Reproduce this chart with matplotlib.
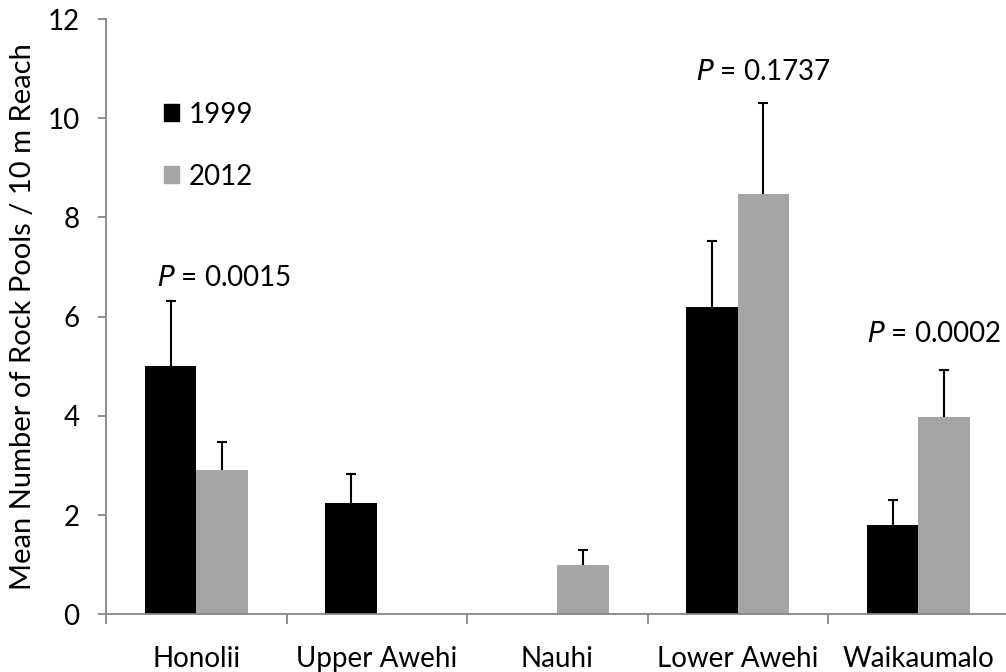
import matplotlib
matplotlib.use("Agg")
import matplotlib.pyplot as plt
import numpy as np

sites = ["Honolii", "Upper Awehi", "Nauhi", "Lower Awehi", "Waikaumalo"]
mean_1999 = [5.01, 2.24, 0.0, 6.19, 1.80]
err_1999 = [1.30, 0.58, 0.0, 1.33, 0.50]
mean_2012 = [2.90, 0.0, 1.00, 8.47, 3.98]
err_2012 = [0.58, 0.0, 0.30, 1.83, 0.95]
has_1999 = [True, True, False, True, True]
has_2012 = [True, False, True, True, True]
p_labels = ["0.0015", "0.1737", "0.0002"]
p_x = [-0.215, 3.143, 4.462]
p_y = [6.78, 10.93, 5.66]
p_ha = ['left', 'center', 'right']

plt.rcParams['font.family'] = ['Lato', 'DejaVu Sans']
FS = 20

fig = plt.figure(figsize=(10.06, 6.72), dpi=100)
ax = fig.add_axes([106/1006, 57.7/672, 902.5/1006, 595.3/672])

x = np.arange(len(sites))
w = 0.285
black = "#000000"
gray = "#A5A5A5"


def draw(xpos, val, err, color):
    ax.bar(xpos, val, w, color=color, zorder=2)
    eb = ax.errorbar(xpos, val, yerr=[[0], [err]], fmt='none', ecolor='black',
                     elinewidth=1.5, capsize=3.8, capthick=1.5, zorder=1)
    eb[1][0].set_visible(False)


for i in range(len(sites)):
    if has_1999[i]:
        draw(x[i] - w/2, mean_1999[i], err_1999[i], black)
    if has_2012[i]:
        draw(x[i] + w/2, mean_2012[i], err_2012[i], gray)

ax.set_xlim(-0.5, len(sites) - 0.5)
ax.set_ylim(0, 12)
ax.set_yticks(np.arange(0, 13, 2))
ax.set_xticks(x)
ax.set_xticklabels(sites, fontsize=FS)
ax.set_xticks(np.arange(-0.5, len(sites), 1.0), minor=True)
ax.tick_params(axis='x', which='major', length=0, pad=23)
ax.tick_params(axis='x', which='minor', length=7.5, width=1.3, color='#868686', direction='out')
ax.tick_params(axis='y', length=6, width=1.3, color='#868686', labelsize=FS, pad=13)

for s in ['top', 'right']:
    ax.spines[s].set_visible(False)
for s in ['left', 'bottom']:
    ax.spines[s].set_color('#868686')
    ax.spines[s].set_linewidth(1.3)

ax.set_ylabel("Mean Number of Rock Pools / 10 m Reach", fontsize=21, labelpad=8)

for lbl, px, py, ha in zip(p_labels, p_x, p_y, p_ha):
    ax.text(px, py, r"$\it{P}$" + " = " + lbl, fontsize=FS, ha=ha, va='center')

# legend
ax.legend(handles=[plt.Rectangle((0, 0), 1, 1, color=black),
                   plt.Rectangle((0, 0), 1, 1, color=gray)],
          labels=["1999", "2012"], loc='upper left', bbox_to_anchor=(0.052, 0.88),
          frameon=False, fontsize=FS, handlelength=0.55, handleheight=0.55,
          handletextpad=0.35, labelspacing=1.3, borderaxespad=0)

fig.savefig("out.png", dpi=100)
